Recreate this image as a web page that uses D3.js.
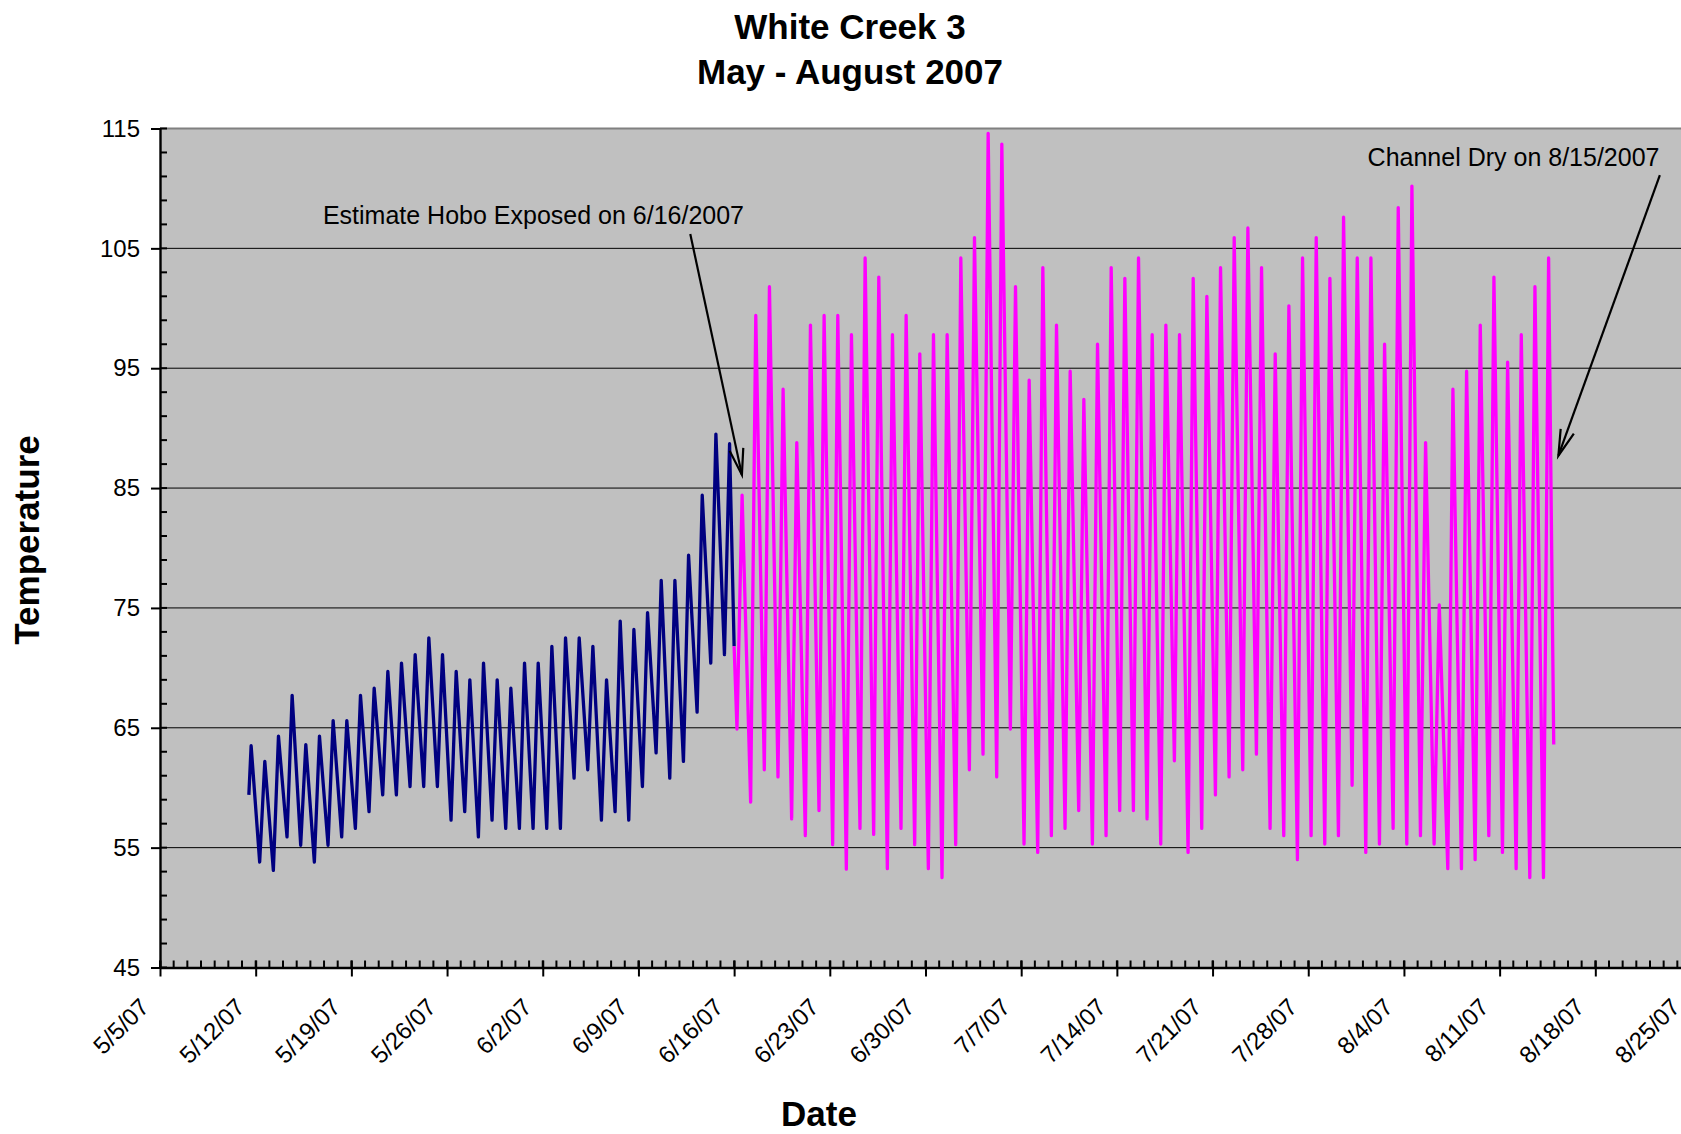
<!DOCTYPE html>
<html>
<head>
<meta charset="utf-8">
<script src="https://d3js.org/d3.v7.min.js"></script>
<style>
html, body { margin: 0; padding: 0; background: #ffffff; overflow: hidden; }
svg { display: block; }
text { font-family: "Liberation Sans", Arial, sans-serif; fill: #000; }
</style>
</head>
<body>
<svg id="chart" width="1681" height="1134"></svg>
<script>
// ---------------- DATA ----------------
const titleLines = ["White Creek 3", "May - August 2007"];
const yTitle = "Temperature";
const xTitle = "Date";

const yTickValues = [45, 55, 65, 75, 85, 95, 105, 115];
const xTickLabels = ["5/5/07", "5/12/07", "5/19/07", "5/26/07", "6/2/07", "6/9/07",
  "6/16/07", "6/23/07", "6/30/07", "7/7/07", "7/14/07", "7/21/07", "7/28/07",
  "8/4/07", "8/11/07", "8/18/07", "8/25/07"];

// Blue series (submerged): first reading 5/11/07 noon, daily afternoon highs 5/11..6/15,
// daily morning lows 5/12..6/15, last reading 6/16/07 00:00
const blueFirstDay = "2007-05-11";
const blueFirstValue = 59.4;
const bluePeaks = [63.5, 62.2, 64.3, 67.7, 63.6, 64.3, 65.6, 65.6, 67.7, 68.3,
  69.7, 70.4, 71.1, 72.5, 71.1, 69.7, 69.0, 70.4, 69.0, 68.3,
  70.4, 70.4, 71.8, 72.5, 72.5, 71.8, 69.0, 73.9, 73.2, 74.6,
  77.3, 77.3, 79.4, 84.4, 89.5, 88.7];
const blueTroughs = [53.8, 53.1, 55.9, 55.2, 53.8, 55.2, 55.9, 56.6, 58.0, 59.4,
  59.4, 60.1, 60.1, 60.1, 57.3, 58.0, 55.9, 57.3, 56.6, 56.6,
  56.6, 56.6, 56.6, 60.8, 61.5, 57.3, 58.0, 57.3, 60.1, 62.9,
  60.8, 62.2, 66.3, 70.4, 71.1];
const transitionValue = 71.8;   // reading at 6/16/07 00:00

// Magenta series (exposed): daily morning lows and afternoon highs 6/16..8/14
const magentaFirstDay = "2007-06-16";
const magentaPeaks = [84.4, 99.4, 101.8, 93.25, 88.8, 98.6, 99.4, 99.4, 97.8, 104.2,
  102.6, 97.8, 99.4, 96.2, 97.8,
  97.8, 104.2, 105.9, 114.6, 113.7, 101.8, 94.0, 103.4, 98.6, 94.75,
  92.4, 97.0, 103.4, 102.5, 104.2, 97.8, 98.6, 97.8, 102.5, 101.0,
  103.4, 105.9, 106.7, 103.4, 96.2, 100.2, 104.2, 105.9, 102.5, 107.6, 104.2,
  104.2, 97.0, 108.4, 110.2, 88.8, 75.25, 93.25, 94.75, 98.6, 102.6,
  95.5, 97.8, 101.8, 104.2];
const magentaTroughs = [64.9, 58.8, 61.5, 60.9, 57.4, 56.0, 58.1, 55.25, 53.2, 56.6,
  56.1, 53.25, 56.6, 55.25, 53.25,
  52.5, 55.25, 61.5, 62.8, 60.9, 64.9, 55.3, 54.6, 56.0, 56.6,
  58.1, 55.3, 56.0, 58.1, 58.1, 57.4, 55.3, 62.25, 54.6, 56.6,
  59.4, 60.9, 61.5, 62.8, 56.6, 56.0, 54.0, 56.0, 55.3, 56.0, 60.2,
  54.6, 55.3, 56.6, 55.3, 56.0, 55.3, 53.25, 53.25, 54.0, 56.0,
  54.6, 53.25, 52.5, 52.5];
const magentaLastValue = 63.6;  // last reading 8/14/07 23:00

// Annotations in data space (date, value)
const annotations = [
  { text: "Estimate Hobo Exposed on 6/16/2007", at: ["2007-05-16T22:00", 107.03],
    from: ["2007-06-12T19:00", 106.2], to: ["2007-06-16T13:40", 86.1] },
  { text: "Channel Dry on 8/15/2007", at: ["2007-08-01T08:10", 111.87],
    from: ["2007-08-22T17:20", 111.1], to: ["2007-08-15T07:10", 87.7] }
];

// ---------------- CHART ----------------
const svg = d3.select("#chart");
const W = 1681, H = 1134;
const plot = { left: 160, right: 1691, top: 128.5, bottom: 967.5 };

const parseTick = d3.timeParse("%-m/%-d/%y");
const parseDay = d3.timeParse("%Y-%m-%d");
const parseTime = d3.timeParse("%Y-%m-%dT%H:%M");
const xTicks = xTickLabels.map(parseTick);

const x = d3.scaleTime().domain([xTicks[0], xTicks[xTicks.length - 1]]).range([plot.left, plot.right]);
const y = d3.scaleLinear().domain([45, 115]).range([plot.bottom, plot.top]);

svg.append("rect").attr("width", W).attr("height", H).attr("fill", "#ffffff");

// plot background
svg.append("rect")
  .attr("x", plot.left).attr("y", plot.top)
  .attr("width", plot.right - plot.left).attr("height", plot.bottom - plot.top)
  .attr("fill", "#C0C0C0");

// gridlines
svg.append("g").selectAll("line")
  .data(yTickValues.filter(v => v > 45 && v < 115))
  .join("line")
  .attr("x1", plot.left).attr("x2", plot.right)
  .attr("y1", d => y(d)).attr("y2", d => y(d))
  .attr("stroke", "#000").attr("stroke-width", 1);

// top border
svg.append("line")
  .attr("x1", plot.left).attr("x2", plot.right)
  .attr("y1", y(115)).attr("y2", y(115))
  .attr("stroke", "#808080").attr("stroke-width", 2);

// build series
const hr = (day, h) => d3.timeMinute.offset(day, Math.round(h * 60));
const bStart = parseDay(blueFirstDay);
const blueSeries = [{ t: hr(bStart, 12), v: blueFirstValue }];
bluePeaks.forEach((p, i) => {
  blueSeries.push({ t: hr(d3.timeDay.offset(bStart, i), 16), v: p });
  if (i < blueTroughs.length)
    blueSeries.push({ t: hr(d3.timeDay.offset(bStart, i + 1), 7), v: blueTroughs[i] });
});
blueSeries.push({ t: d3.timeDay.offset(bStart, bluePeaks.length), v: transitionValue });

const mStart = parseDay(magentaFirstDay);
const magentaSeries = [{ t: mStart, v: transitionValue }];
magentaPeaks.forEach((p, i) => {
  const day = d3.timeDay.offset(mStart, i);
  magentaSeries.push({ t: hr(day, 5), v: magentaTroughs[i] });
  magentaSeries.push({ t: hr(day, 14), v: p });
});
magentaSeries.push({ t: hr(d3.timeDay.offset(mStart, magentaPeaks.length - 1), 23), v: magentaLastValue });

const line = d3.line().x(d => x(d.t)).y(d => y(d.v));

svg.append("path").datum(blueSeries)
  .attr("d", line).attr("fill", "none")
  .attr("stroke", "#000080").attr("stroke-width", 3.3)
  .attr("stroke-linejoin", "round");

svg.append("path").datum(magentaSeries)
  .attr("d", line).attr("fill", "none")
  .attr("stroke", "#FF00FF").attr("stroke-width", 3.3)
  .attr("stroke-linejoin", "round");

// Y axis
const yAxis = svg.append("g")
  .attr("transform", `translate(${plot.left},0)`)
  .call(d3.axisLeft(y).tickValues(yTickValues).tickSize(9).tickSizeOuter(0).tickPadding(11));
yAxis.select(".domain").attr("stroke", "#000").attr("stroke-width", 2.4);
yAxis.selectAll(".tick line").attr("stroke", "#000").attr("stroke-width", 2);
yAxis.selectAll(".tick text").attr("font-size", 24).attr("font-family", "Liberation Sans, Arial, sans-serif");
// inner minor ticks (every 2 units)
yAxis.append("g").selectAll("line")
  .data(d3.range(45, 115.01, 2))
  .join("line")
  .attr("x1", 0).attr("x2", 7)
  .attr("y1", d => y(d)).attr("y2", d => y(d))
  .attr("stroke", "#000").attr("stroke-width", 2);

// X axis
const xAxis = svg.append("g")
  .attr("transform", `translate(0,${plot.bottom})`)
  .call(d3.axisBottom(x).tickValues(xTicks).tickSize(9).tickSizeOuter(0)
    .tickFormat((d, i) => xTickLabels[i]));
xAxis.select(".domain").attr("stroke", "#000").attr("stroke-width", 2.4);
xAxis.selectAll(".tick line").attr("stroke", "#000").attr("stroke-width", 2).attr("y1", -7);
xAxis.selectAll(".tick text")
  .attr("font-size", 24).attr("font-family", "Liberation Sans, Arial, sans-serif")
  .attr("text-anchor", "end")
  .attr("x", -10).attr("y", 41).attr("dy", 0)
  .attr("transform", "rotate(-45,-10,41)");
// daily minor ticks inside
xAxis.append("g").selectAll("line")
  .data(d3.timeDay.range(x.domain()[0], d3.timeDay.offset(x.domain()[1], 1)))
  .join("line")
  .attr("x1", d => x(d)).attr("x2", d => x(d))
  .attr("y1", -7).attr("y2", 0)
  .attr("stroke", "#000").attr("stroke-width", 2);

// Titles
svg.append("g").selectAll("text")
  .data(titleLines).join("text")
  .attr("x", 850).attr("y", (d, i) => 38.5 + i * 45)
  .attr("text-anchor", "middle")
  .attr("font-size", 35).attr("font-weight", "bold")
  .text(d => d);

svg.append("text")
  .attr("transform", "translate(38.5,540) rotate(-90)")
  .attr("text-anchor", "middle")
  .attr("font-size", 35).attr("font-weight", "bold")
  .text(yTitle);

svg.append("text")
  .attr("x", 819).attr("y", 1126)
  .attr("text-anchor", "middle")
  .attr("font-size", 35).attr("font-weight", "bold")
  .text(xTitle);

// Annotations
const pt = a => [x(parseTime(a[0])), y(a[1])];
const annG = svg.append("g");
annotations.forEach(a => {
  const [tx, ty] = pt(a.at);
  annG.append("text").attr("x", tx).attr("y", ty)
    .attr("font-size", 25).text(a.text);
  const [x1, y1] = pt(a.from), [x2, y2] = pt(a.to);
  annG.append("line").attr("x1", x1).attr("y1", y1).attr("x2", x2).attr("y2", y2)
    .attr("stroke", "#000").attr("stroke-width", 2.2);
  const ang = Math.atan2(y1 - y2, x1 - x2), len = 27, spread = 15 * Math.PI / 180;
  const b1 = [x2 + len * Math.cos(ang - spread), y2 + len * Math.sin(ang - spread)];
  const b2 = [x2 + len * Math.cos(ang + spread), y2 + len * Math.sin(ang + spread)];
  annG.append("path")
    .attr("d", `M${b1[0]},${b1[1]}L${x2},${y2}L${b2[0]},${b2[1]}`)
    .attr("fill", "none").attr("stroke", "#000").attr("stroke-width", 2.2)
    .attr("stroke-linejoin", "miter");
});
</script>
</body>
</html>
